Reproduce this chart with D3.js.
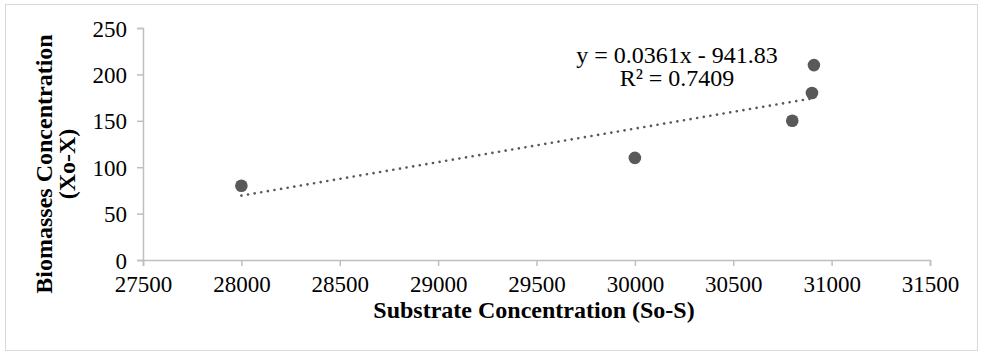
<!DOCTYPE html>
<html>
<head>
<meta charset="utf-8">
<script src="https://cdn.jsdelivr.net/npm/d3@7"></script>
<style>
  body { margin: 0; background: #fff; }
  text { font-family: "Liberation Serif", "Times New Roman", serif; fill: #000; }
</style>
</head>
<body>
<svg id="chart"></svg>
<script>
// substrate (So-S) vs biomass (Xo-X)
let substrate = [28000, 30000, 30800, 30900, 30910];
let biomass = [80, 110, 150, 180, 210];
let xTicks = [27500, 28000, 28500, 29000, 29500, 30000, 30500, 31000, 31500];
let yTicks = [0, 50, 100, 150, 200, 250];

function drawChart() {
    let w = 984, h = 354;
    let svg = d3.select("#chart")
              .attr('width', w)
              .attr('height', h);

    // outer frame
    svg.append('rect')
        .attr('x', 5.5).attr('y', 4.5)
        .attr('width', 972).attr('height', 346)
        .attr('fill', 'none')
        .attr('stroke', '#d9d9d9');

    let x = d3.scaleLinear().domain([27500, 31500]).range([143, 930]);
    let y = d3.scaleLinear().domain([0, 250]).range([260, 28]);

    let xAxis = svg.append('g')
        .attr('transform', 'translate(0,260)')
        .call(d3.axisBottom(x).tickValues(xTicks).tickSize(6).tickPadding(10).tickFormat(d3.format('d')));
    let yAxis = svg.append('g')
        .attr('transform', 'translate(143,0)')
        .call(d3.axisLeft(y).tickValues(yTicks).tickSize(6).tickPadding(10));

    [xAxis, yAxis].forEach(a => {
        a.select('.domain').attr('stroke', '#bfbfbf').attr('stroke-width', 1.5);
        a.selectAll('.tick line').attr('stroke', '#bfbfbf').attr('stroke-width', 1.5);
        a.selectAll('.tick text')
            .attr('font-family', '"Liberation Serif", serif')
            .attr('font-size', 23)
            .attr('fill', '#000');
    });
    yAxis.selectAll('.tick text').attr('dy', '0.35em');

    // linear trendline, least squares
    let n = substrate.length;
    let mx = d3.mean(substrate), my = d3.mean(biomass);
    let sxy = 0, sxx = 0, syy = 0;
    for (let i = 0; i < n; i++) {
        sxy += (substrate[i] - mx) * (biomass[i] - my);
        sxx += (substrate[i] - mx) ** 2;
        syy += (biomass[i] - my) ** 2;
    }
    let slope = sxy / sxx;
    let icpt = my - slope * mx;
    let r2 = sxy * sxy / (sxx * syy);
    let xr = d3.extent(substrate);

    svg.append('line')
        .attr('x1', x(xr[0])).attr('y1', y(slope * xr[0] + icpt))
        .attr('x2', x(xr[1])).attr('y2', y(slope * xr[1] + icpt))
        .attr('stroke', '#595959')
        .attr('stroke-width', 2.6)
        .attr('stroke-linecap', 'round')
        .attr('stroke-dasharray', '0.1 6.6');

    svg.selectAll('circle')
        .data(substrate)
        .enter()
        .append('circle')
        .attr('cx', d => x(d))
        .attr('cy', (d, i) => y(biomass[i]))
        .attr('r', 6.3)
        .style('fill', '#595959');

    let eq = svg.append('text')
        .attr('x', 677).attr('y', 63)
        .attr('text-anchor', 'middle')
        .attr('font-size', 24);
    eq.append('tspan').attr('x', 677)
        .text('y = ' + slope.toFixed(4) + 'x - ' + Math.abs(icpt).toFixed(2));
    eq.append('tspan').attr('x', 677).attr('y', 86)
        .text('R² = ' + r2.toFixed(4));

    svg.append('text')
        .attr('x', 534).attr('y', 318)
        .attr('text-anchor', 'middle')
        .attr('font-size', 24)
        .attr('font-weight', 'bold')
        .text('Substrate Concentration (So-S)');

    let yt = svg.append('text')
        .attr('transform', 'translate(52,164) rotate(-90)')
        .attr('text-anchor', 'middle')
        .attr('font-size', 24)
        .attr('font-weight', 'bold');
    yt.append('tspan').attr('x', 0).attr('y', 0).text('Biomasses Concentration');
    yt.append('tspan').attr('x', 0).attr('y', 23).text('(Xo-X)');
}

drawChart();
</script>
</body>
</html>
